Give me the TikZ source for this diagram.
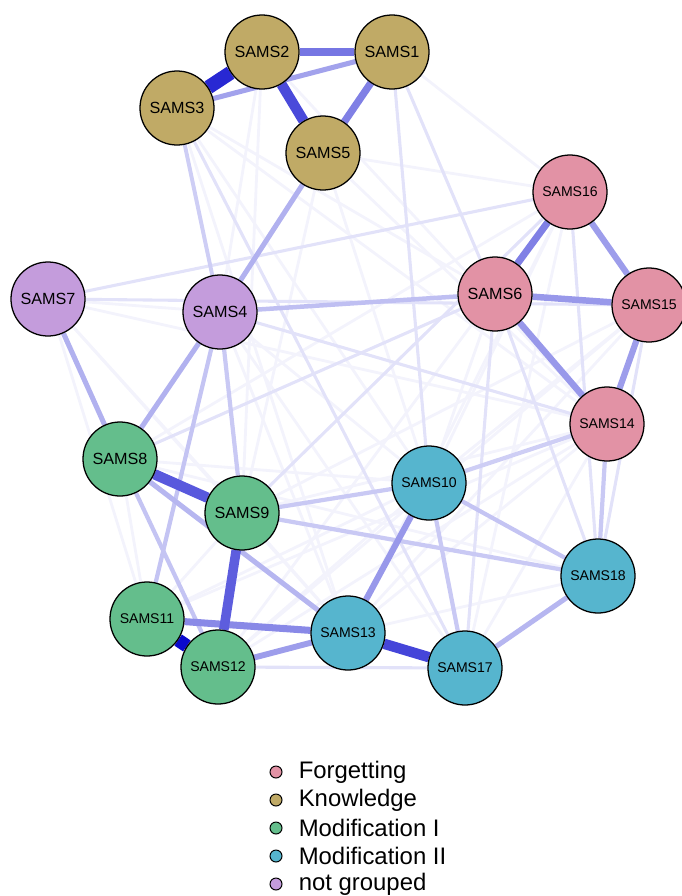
\documentclass[tikz,border=0pt]{standalone}
\usepackage{fontspec}
\setmainfont{Liberation Sans}
\usetikzlibrary{positioning}
\pgfdeclarelayer{background}
\pgfsetlayers{background,main}

\definecolor{forgetcol}{RGB}{226,146,165}
\definecolor{knowcol}{RGB}{192,170,102}
\definecolor{modonecol}{RGB}{100,190,140}
\definecolor{modtwocol}{RGB}{86,181,206}
\definecolor{nogroupcol}{RGB}{196,156,220}
\definecolor{edgecol}{RGB}{10,10,205}

\begin{document}
\begin{tikzpicture}[x=0.025cm, y=-0.025cm,
		sams/.style={circle, draw=black, line width=0.9pt, minimum size=1.85cm, inner sep=0pt, font=\fontsize{11.5}{13}\selectfont},
		twodig/.style={font=\fontsize{10}{12}\selectfont},
		forget/.style={sams, twodig, fill=forgetcol},
		know/.style={sams, fill=knowcol},
		modone/.style={sams, fill=modonecol},
		modtwo/.style={sams, twodig, fill=modtwocol},
		nogroup/.style={sams, fill=nogroupcol},
		key/.style={circle, draw=black, line width=0.7pt, minimum size=0.3cm, inner sep=0pt},
		keytext/.style={anchor=west, inner sep=0pt, font=\fontsize{17}{20}\selectfont}
	]
	\useasboundingbox (0,0) rectangle (682,896);

	% nodes
	\node[know] (s1) at (392,52) {SAMS1};
	\node[know] (s2) at (262,52) {SAMS2};
	\node[know] (s3) at (177,108) {SAMS3};
	\node[know] (s5) at (323,153) {SAMS5};
	\node[nogroup] (s7) at (48,299) {SAMS7};
	\node[nogroup] (s4) at (220,312) {SAMS4};
	\node[forget] (s16) at (570,192) {SAMS16};
	\node[forget, font=\fontsize{11.5}{13}\selectfont] (s6) at (495,294) {SAMS6};
	\node[forget] (s15) at (649,305) {SAMS15};
	\node[forget] (s14) at (607,424) {SAMS14};
	\node[modone] (s8) at (120,459) {SAMS8};
	\node[modone] (s9) at (242,513) {SAMS9};
	\node[modone, twodig] (s11) at (147,619) {SAMS11};
	\node[modone, twodig] (s12) at (218,667) {SAMS12};
	\node[modtwo] (s10) at (429,483) {SAMS10};
	\node[modtwo] (s18) at (598,576) {SAMS18};
	\node[modtwo] (s13) at (348,633) {SAMS13};
	\node[modtwo] (s17) at (465,668) {SAMS17};

	% edges, weakest first
	\begin{pgfonlayer}{background}
		\foreach \a/\b in {s3/s6, s3/s10, s3/s13, s2/s4, s2/s9, s5/s10, s5/s14, s5/s9,
				s7/s4, s7/s9, s7/s11, s7/s13, s7/s14, s4/s10, s4/s13, s4/s17,
				s8/s10, s8/s11, s8/s18, s9/s14, s9/s15, s11/s10, s11/s14, s11/s9,
				s12/s10, s12/s15, s12/s16, s13/s15, s13/s16, s13/s14, s13/s18,
				s17/s16, s17/s14, s10/s15, s10/s16, s10/s6, s1/s16, s1/s4, s5/s16,
				s2/s14, s9/s13, s8/s16, s3/s14, s12/s14}
			\draw[line width=2pt, edgecol!5!white] (\a) -- (\b);
		\foreach \a/\b in {s3/s17, s4/s14, s8/s6, s9/s16, s12/s17, s17/s6,
				s18/s16, s18/s6, s18/s15, s7/s15, s1/s6, s1/s10, s7/s16}
			\draw[line width=2.2pt, edgecol!12!white] (\a) -- (\b);
		\foreach \a/\b/\w/\c in {s3/s4/2.8/20, s14/s18/3/22, s10/s14/3/20,
				s10/s17/3/22, s9/s18/3/22, s9/s10/3/22, s10/s18/3/24,
				s4/s9/3/22, s4/s11/3/24, s8/s12/3/24, s4/s6/3.2/26,
				s1/s3/3.6/38, s5/s4/3.6/32, s7/s8/3.6/32, s4/s8/3.6/32,
				s8/s13/3.6/30, s17/s18/3.6/30, s12/s13/4.2/40, s10/s13/4.4/42,
				s6/s14/4.6/42, s6/s15/4.6/42, s16/s15/4.4/40, s15/s14/4.4/40,
				s11/s13/5/48, s16/s6/5/52, s1/s5/5.2/52, s2/s1/5.8/56,
				s9/s12/6.8/66, s8/s9/7.4/68, s2/s5/7.4/74, s13/s17/7.4/76,
				s3/s2/10/88, s11/s12/9.5/100}
			\draw[line width=\w pt, edgecol!\c!white] (\a) -- (\b);
	\end{pgfonlayer}

	% legend
	\node[key, fill=forgetcol] (k1) at (276,772) {};
	\node[key, fill=knowcol] (k2) at (276,800) {};
	\node[key, fill=modonecol] (k3) at (276,828) {};
	\node[key, fill=modtwocol] (k4) at (276,856) {};
	\node[key, fill=nogroupcol] (k5) at (276,884) {};
	\node[keytext, right=0.4cm of k1] {Forgetting};
	\node[keytext, right=0.4cm of k2] {Knowledge};
	\node[keytext, right=0.4cm of k3] {Modification I};
	\node[keytext, right=0.4cm of k4] {Modification II};
	\node[keytext, right=0.4cm of k5] {not grouped};
\end{tikzpicture}
\end{document}
